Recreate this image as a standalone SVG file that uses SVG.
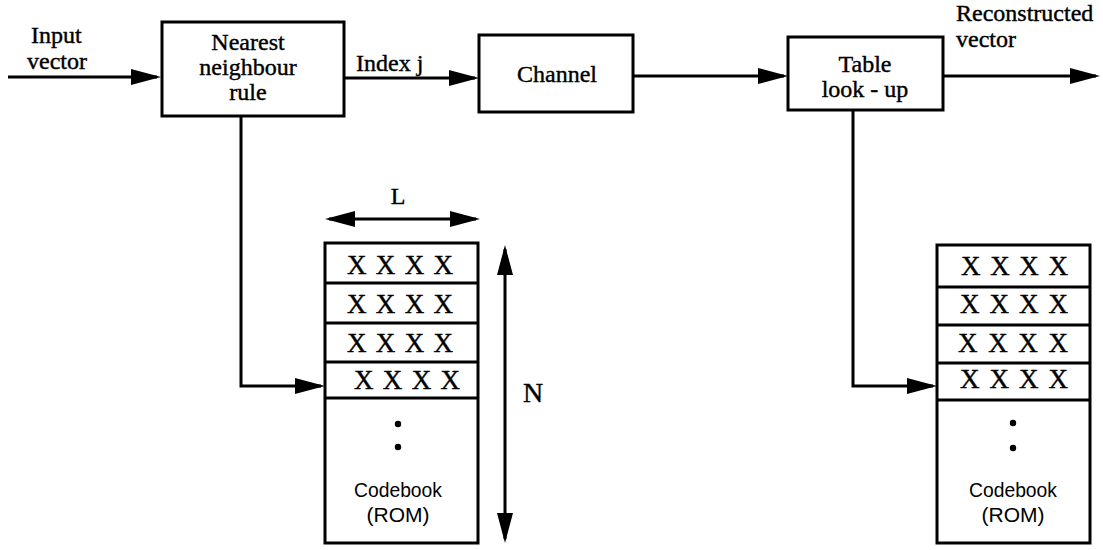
<svg xmlns="http://www.w3.org/2000/svg" width="1103" height="550" viewBox="0 0 1103 550">
  <style>
    .box { fill: #fff; stroke: #000; stroke-width: 3; }
    .ln { fill: none; stroke: #000; stroke-width: 3; }
    .t { font-family: "Liberation Serif", "Times New Roman", serif; font-size: 24px; fill: #000; stroke: #000; stroke-width: 0.4; }
    .c { text-anchor: middle; }
    .x { font-family: "Liberation Serif", "Times New Roman", serif; font-size: 27px; fill: #000; stroke: #000; stroke-width: 0.4; }
    .s { font-family: "Liberation Sans", Arial, sans-serif; font-size: 21px; fill: #000; text-anchor: middle; }
  </style>
  <defs>
    <marker id="arr" markerUnits="userSpaceOnUse" markerWidth="32" markerHeight="18" refX="26" refY="8" orient="auto-start-reverse">
      <path d="M0,0 L30,8 L0,16 z" fill="#000"/>
    </marker>
  </defs>
  <rect width="1103" height="550" fill="#fff"/>

  <!-- connectors -->
  <g id="connectors">
    <line class="ln" x1="8" y1="77" x2="157" y2="77" marker-end="url(#arr)"/>
    <line class="ln" x1="344" y1="78" x2="475" y2="78" marker-end="url(#arr)"/>
    <line class="ln" x1="633" y1="76" x2="784" y2="76" marker-end="url(#arr)"/>
    <line class="ln" x1="943" y1="76" x2="1096" y2="76" marker-end="url(#arr)"/>
    <polyline class="ln" points="241,116 241,386 321,386" marker-end="url(#arr)"/>
    <polyline class="ln" points="853,110 853,386 933,386" marker-end="url(#arr)"/>
    <!-- dimension arrows -->
    <line class="ln" x1="329" y1="219" x2="476" y2="219" marker-start="url(#arr)" marker-end="url(#arr)"/>
    <line class="ln" x1="505" y1="249" x2="505" y2="539" marker-start="url(#arr)" marker-end="url(#arr)"/>
  </g>

  <!-- free labels -->
  <g id="labels">
    <text class="t" x="31" y="43">Input</text>
    <text class="t" x="27" y="69">vector</text>
    <text class="t" x="356" y="71">Index j</text>
    <text class="t" x="956" y="21">Reconstructed</text>
    <text class="t" x="956" y="47">vector</text>
    <text class="t c" x="398" y="204">L</text>
    <text class="t" x="523" y="402" style="font-size:28px">N</text>
  </g>

  <g id="nearest-neighbour">
    <rect class="box" x="162" y="22" width="182" height="94"/>
    <text class="t c" x="248" y="50">Nearest</text>
    <text class="t c" x="248" y="75">neighbour</text>
    <text class="t c" x="248" y="100">rule</text>
  </g>

  <g id="channel">
    <rect class="box" x="479" y="35" width="154" height="77"/>
    <text class="t c" x="557" y="82">Channel</text>
  </g>

  <g id="table-lookup">
    <rect class="box" x="788" y="37" width="155" height="73"/>
    <text class="t c" x="865" y="72">Table</text>
    <text class="t c" x="865" y="97">look - up</text>
  </g>

  <g id="codebook-encoder">
    <rect class="box" x="325" y="243" width="153" height="300"/>
    <line class="ln" x1="325" y1="283" x2="478" y2="283"/>
    <line class="ln" x1="325" y1="323" x2="478" y2="323"/>
    <line class="ln" x1="325" y1="362" x2="478" y2="362"/>
    <line class="ln" x1="325" y1="398" x2="478" y2="398"/>
    <text class="x" x="347" y="274" textLength="106">X X X X</text>
    <text class="x" x="347" y="313" textLength="106">X X X X</text>
    <text class="x" x="347" y="352" textLength="106">X X X X</text>
    <text class="x" x="354" y="389" textLength="106">X X X X</text>
    <circle cx="398" cy="424" r="3.2" fill="#000"/>
    <circle cx="398" cy="447" r="3.2" fill="#000"/>
    <text class="s" x="398" y="497" textLength="88" lengthAdjust="spacingAndGlyphs">Codebook</text>
    <text class="s" x="398" y="522">(ROM)</text>
  </g>

  <g id="codebook-decoder">
    <rect class="box" x="937" y="245" width="153" height="298"/>
    <line class="ln" x1="937" y1="287" x2="1090" y2="287"/>
    <line class="ln" x1="937" y1="325" x2="1090" y2="325"/>
    <line class="ln" x1="937" y1="363" x2="1090" y2="363"/>
    <line class="ln" x1="937" y1="400" x2="1090" y2="400"/>
    <text class="x" x="961" y="275" textLength="107">X X X X</text>
    <text class="x" x="960" y="313" textLength="108">X X X X</text>
    <text class="x" x="958" y="352" textLength="110">X X X X</text>
    <text class="x" x="960" y="388" textLength="108">X X X X</text>
    <circle cx="1013" cy="423" r="3.2" fill="#000"/>
    <circle cx="1013" cy="448" r="3.2" fill="#000"/>
    <text class="s" x="1013" y="497" textLength="88" lengthAdjust="spacingAndGlyphs">Codebook</text>
    <text class="s" x="1013" y="522">(ROM)</text>
  </g>
</svg>
